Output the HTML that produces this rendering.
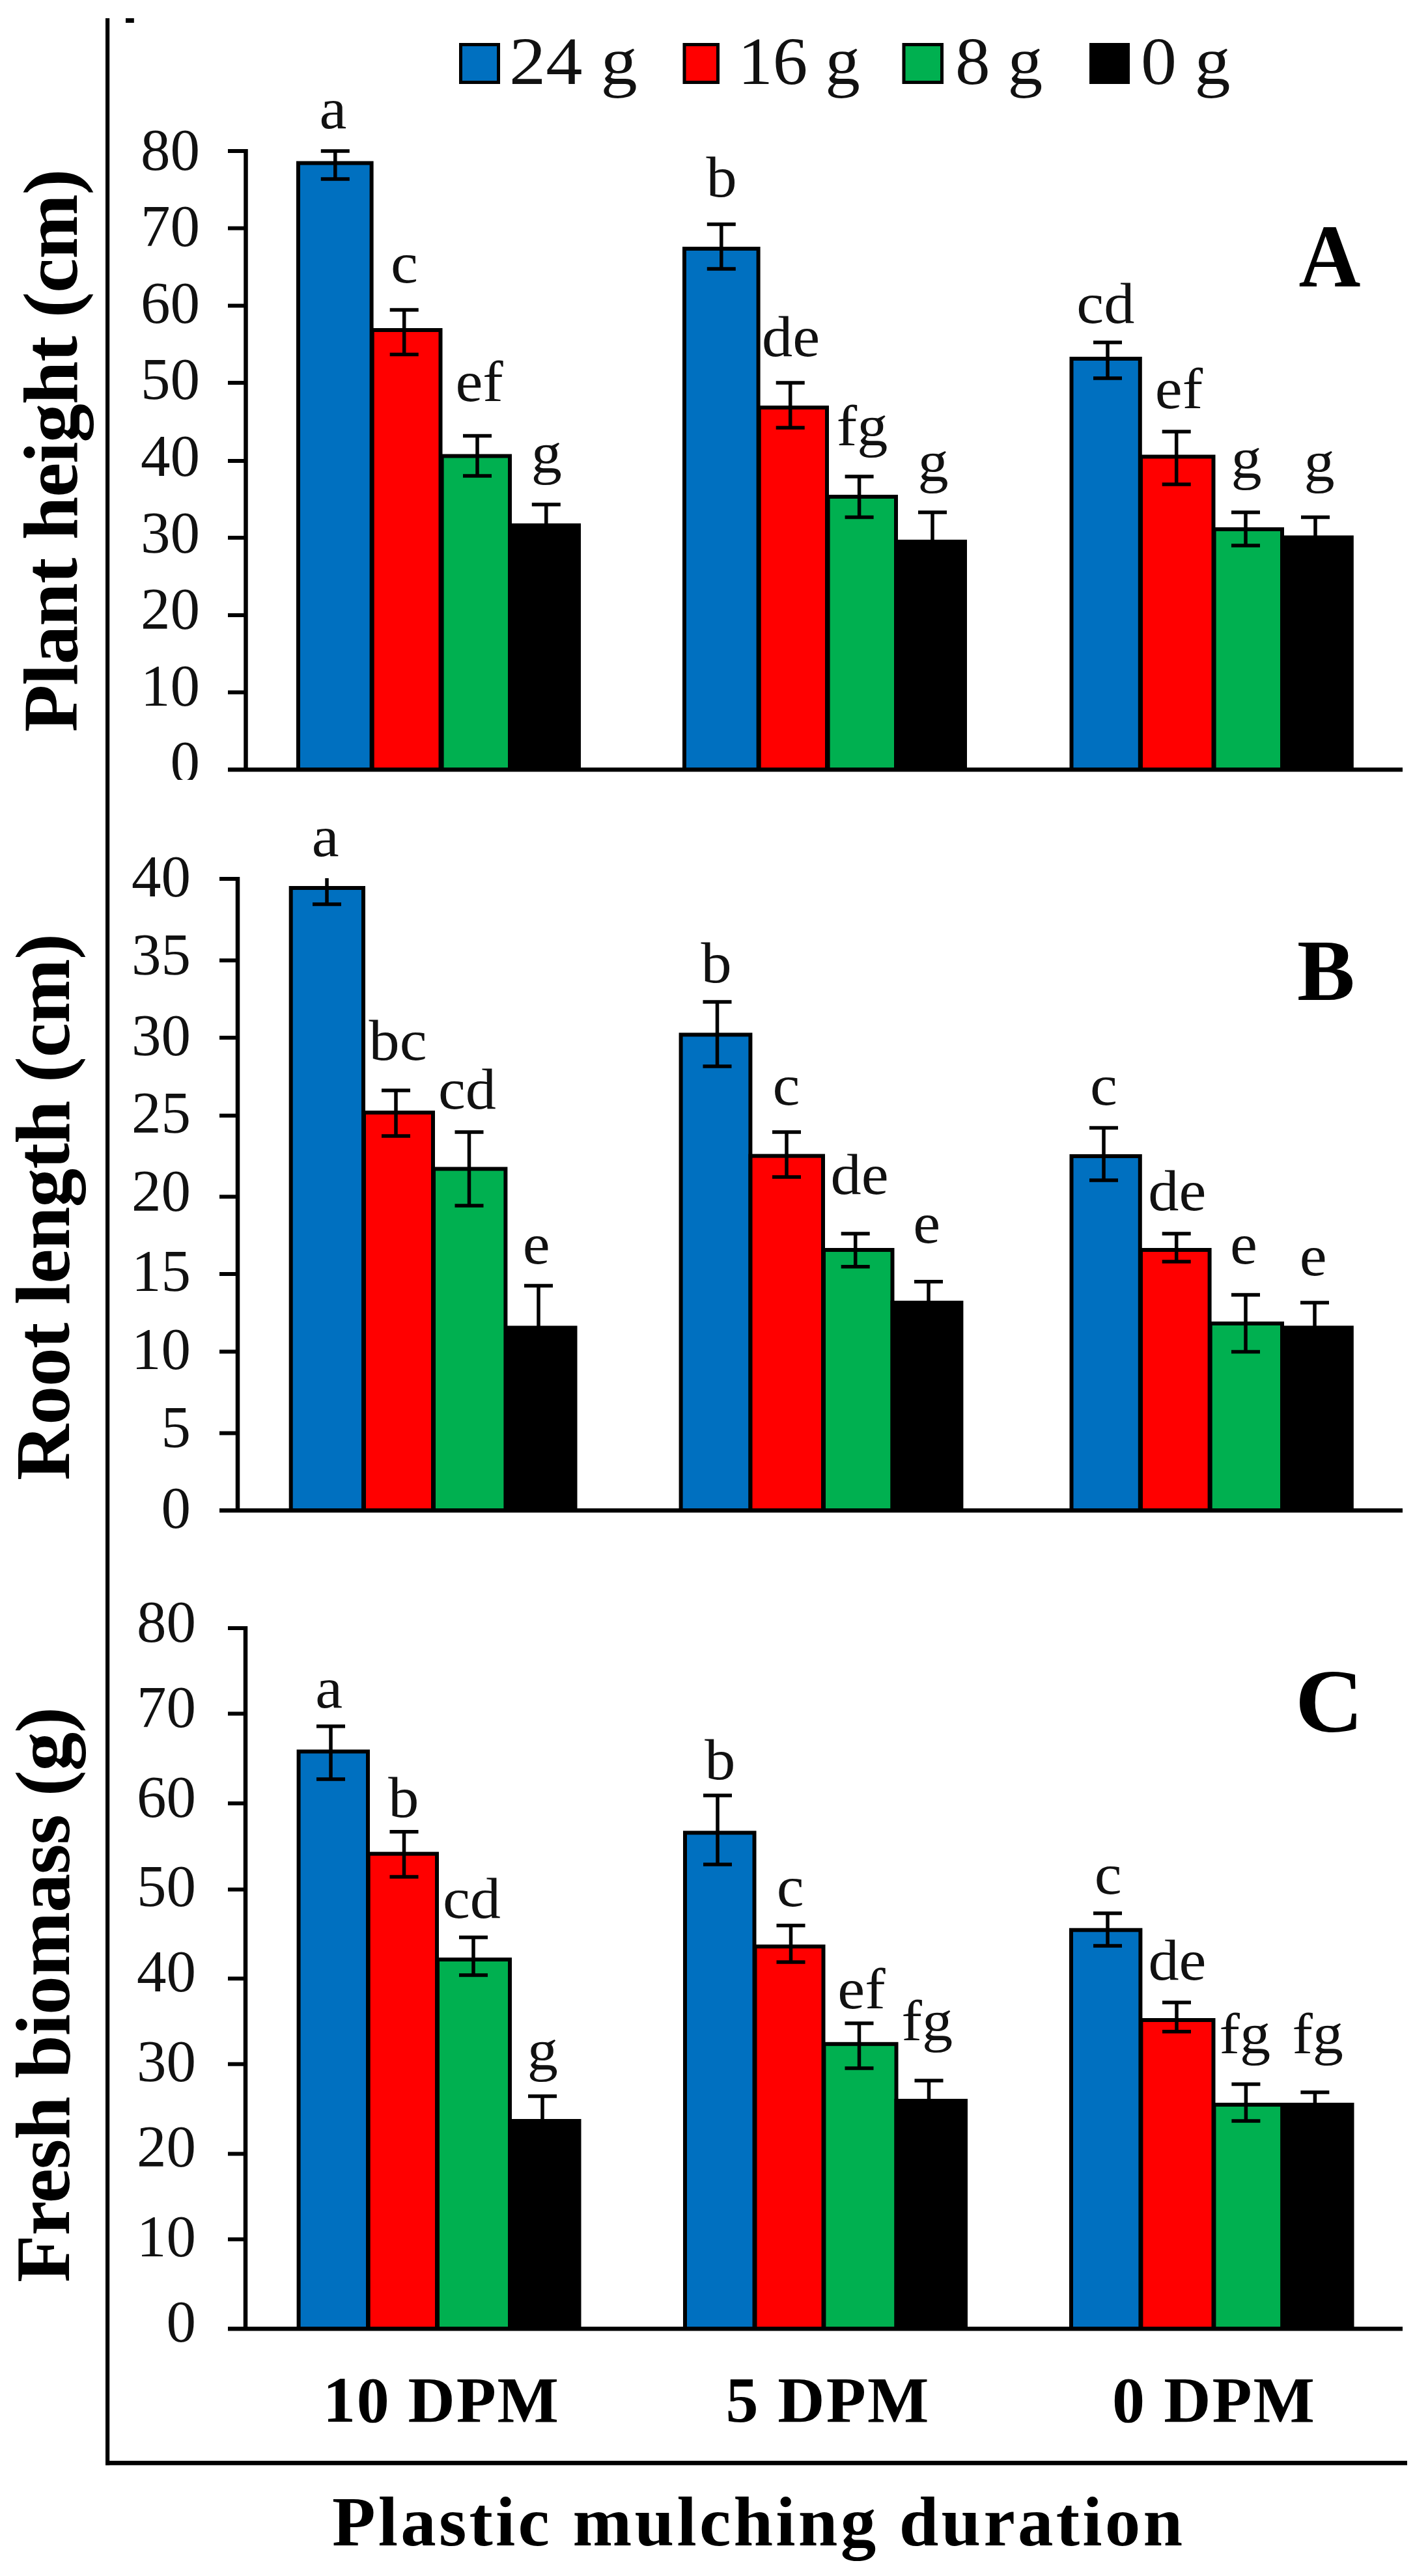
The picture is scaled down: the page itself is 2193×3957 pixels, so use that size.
<!DOCTYPE html><html><head><meta charset="utf-8"><title>Plastic mulching duration</title>
<style>html,body{margin:0;padding:0;background:#fff;overflow:hidden}svg{display:block}text{font-family:"Liberation Serif","DejaVu Serif",serif;fill:#111}.b{font-weight:bold;fill:#000}.lab{font-size:89px;text-anchor:middle}.tk{font-size:91px;text-anchor:end}.leg{font-size:103px}</style></head><body>
<svg width="2193" height="3957" viewBox="0 0 2193 3957">
<rect width="2193" height="3957" fill="#fff"/>
<defs><clipPath id="clipA0"><rect x="180" y="1100" width="160" height="98"/></clipPath></defs>
<g fill="#000">
<rect x="162" y="28" width="6.2" height="3759"/>
<rect x="162" y="3780" width="1999" height="6.8"/>
<rect x="193" y="28" width="12.8" height="7"/>
</g>
<rect x="707.5" y="68.5" width="58" height="58" fill="#0070C0" stroke="#000" stroke-width="5"/>
<text class="leg" transform="translate(781.9 129) scale(1.092 1)">24 g</text>
<rect x="1051.0" y="68.5" width="51.5" height="58" fill="#FF0000" stroke="#000" stroke-width="5"/>
<text class="leg" transform="translate(1133.3 129) scale(1.04 1)">16 g</text>
<rect x="1388.0" y="68.5" width="58.5" height="58" fill="#00B050" stroke="#000" stroke-width="5"/>
<text class="leg" transform="translate(1467.1 129) scale(1.042 1)">8 g</text>
<rect x="1675.5" y="68.5" width="57" height="58" fill="#000000" stroke="#000" stroke-width="5"/>
<text class="leg" transform="translate(1752 129) scale(1.067 1)">0 g</text>
<g fill="#000">
<rect x="374.25" y="229" width="6.5" height="956"/>
<rect x="350" y="1179" width="1804" height="6.5"/>
<rect x="350" y="229" width="27.5" height="6"/>
<rect x="350" y="347.6" width="27.5" height="6"/>
<rect x="350" y="466.6" width="27.5" height="6"/>
<rect x="350" y="585" width="27.5" height="6"/>
<rect x="350" y="705" width="27.5" height="6"/>
<rect x="350" y="823" width="27.5" height="6"/>
<rect x="350" y="942" width="27.5" height="6"/>
<rect x="350" y="1060.5" width="27.5" height="6"/>
</g>
<text class="tk" x="307" y="260.6">80</text>
<text class="tk" x="307" y="378.2">70</text>
<text class="tk" x="307" y="495.8">60</text>
<text class="tk" x="307" y="613.4">50</text>
<text class="tk" x="307" y="731.0">40</text>
<text class="tk" x="307" y="848.6">30</text>
<text class="tk" x="307" y="966.2">20</text>
<text class="tk" x="307" y="1083.8">10</text>
<text class="tk" x="307" y="1201.4" clip-path="url(#clipA0)">0</text>
<rect x="458.0" y="250.5" width="112.6" height="931.5" fill="#0070C0" stroke="#000" stroke-width="6"/>
<rect x="571.7" y="507.0" width="104.8" height="675.0" fill="#FF0000" stroke="#000" stroke-width="6"/>
<rect x="678.6" y="700.5" width="104.4" height="481.5" fill="#00B050" stroke="#000" stroke-width="6"/>
<rect x="784.0" y="807.0" width="105.0" height="375.0" fill="#000000" stroke="#000" stroke-width="6"/>
<rect x="1051.0" y="382.0" width="113.6" height="800.0" fill="#0070C0" stroke="#000" stroke-width="6"/>
<rect x="1165.7" y="626.0" width="104.3" height="556.0" fill="#FF0000" stroke="#000" stroke-width="6"/>
<rect x="1271.6" y="763.0" width="104.4" height="419.0" fill="#00B050" stroke="#000" stroke-width="6"/>
<rect x="1377.0" y="832.0" width="105.0" height="350.0" fill="#000000" stroke="#000" stroke-width="6"/>
<rect x="1645.5" y="551.0" width="105.3" height="631.0" fill="#0070C0" stroke="#000" stroke-width="6"/>
<rect x="1752.0" y="701.5" width="111.5" height="480.5" fill="#FF0000" stroke="#000" stroke-width="6"/>
<rect x="1864.6" y="813.0" width="104.4" height="369.0" fill="#00B050" stroke="#000" stroke-width="6"/>
<rect x="1970.0" y="825.5" width="105.8" height="356.5" fill="#000000" stroke="#000" stroke-width="6"/>
<g stroke="#000" stroke-width="5.5" fill="none">
<path d="M514.8 232V275M492.79999999999995 275H536.8M492.79999999999995 232H536.8"/>
<path d="M620.7 476V544.6M598.7 544.6H642.7M598.7 476H642.7"/>
<path d="M733 669.6V731M711 731H755M711 669.6H755"/>
<path d="M838.8 775V833M816.8 833H860.8M816.8 775H860.8"/>
<path d="M1107.8 344.6V413M1085.8 413H1129.8M1085.8 344.6H1129.8"/>
<path d="M1213.7 588V657M1191.7 657H1235.7M1191.7 588H1235.7"/>
<path d="M1319.6 732V794.6M1297.6 794.6H1341.6M1297.6 732H1341.6"/>
<path d="M1432 787V871M1410 871H1454M1410 787H1454"/>
<path d="M1701 526V581M1679 581H1723M1679 526H1723"/>
<path d="M1806.7 663V744M1784.7 744H1828.7M1784.7 663H1828.7"/>
<path d="M1913 787V838M1891 838H1935M1891 787H1935"/>
<path d="M2020 794.6V850M1998 850H2042M1998 794.6H2042"/>
</g>
<text class="lab" transform="translate(511.5 197) scale(1.06 1)">a</text>
<text class="lab" transform="translate(621.0 434) scale(1.06 1)">c</text>
<text class="lab" transform="translate(736.1 615.7) scale(1.06 1)">ef</text>
<text class="lab" transform="translate(839.4 726) scale(1.06 1)">g</text>
<text class="lab" transform="translate(1108.0 302) scale(1.06 1)">b</text>
<text class="lab" transform="translate(1214.5 547) scale(1.06 1)">de</text>
<text class="lab" transform="translate(1324.0 684) scale(1.06 1)">fg</text>
<text class="lab" transform="translate(1433.0 738.5) scale(1.06 1)">g</text>
<text class="lab" transform="translate(1697.8 495.6) scale(1.06 1)">cd</text>
<text class="lab" transform="translate(1810.5 626.5) scale(1.06 1)">ef</text>
<text class="lab" transform="translate(1914.0 733.6) scale(1.06 1)">g</text>
<text class="lab" transform="translate(2026.0 738.5) scale(1.06 1)">g</text>
<g fill="#000">
<rect x="361.75" y="1347" width="6.5" height="976"/>
<rect x="337" y="2317" width="1817" height="6.5"/>
<rect x="337" y="1347" width="28" height="6"/>
<rect x="337" y="1472.3" width="28" height="6"/>
<rect x="337" y="1591" width="28" height="6"/>
<rect x="337" y="1710.7" width="28" height="6"/>
<rect x="337" y="1835.3" width="28" height="6"/>
<rect x="337" y="1954" width="28" height="6"/>
<rect x="337" y="2073.3" width="28" height="6"/>
<rect x="337" y="2198.5" width="28" height="6"/>
</g>
<text class="tk" x="293" y="1377.0">40</text>
<text class="tk" x="293" y="1496.6">35</text>
<text class="tk" x="293" y="1621.0">30</text>
<text class="tk" x="293" y="1740.0">25</text>
<text class="tk" x="293" y="1859.5">20</text>
<text class="tk" x="293" y="1983.4">15</text>
<text class="tk" x="293" y="2103.0">10</text>
<text class="tk" x="293" y="2222.6">5</text>
<text class="tk" x="293" y="2346.5">0</text>
<rect x="446.7" y="1364.0" width="111.3" height="956.0" fill="#0070C0" stroke="#000" stroke-width="6"/>
<rect x="559.0" y="1709.0" width="106.0" height="611.0" fill="#FF0000" stroke="#000" stroke-width="6"/>
<rect x="666.0" y="1795.5" width="110.4" height="524.5" fill="#00B050" stroke="#000" stroke-width="6"/>
<rect x="778.0" y="2039.5" width="105.5" height="280.5" fill="#000000" stroke="#000" stroke-width="6"/>
<rect x="1045.6" y="1589.4" width="106.8" height="730.6" fill="#0070C0" stroke="#000" stroke-width="6"/>
<rect x="1152.5" y="1775.6" width="111.5" height="544.4" fill="#FF0000" stroke="#000" stroke-width="6"/>
<rect x="1265.0" y="1920.0" width="105.5" height="400.0" fill="#00B050" stroke="#000" stroke-width="6"/>
<rect x="1370.6" y="2001.0" width="105.8" height="319.0" fill="#000000" stroke="#000" stroke-width="6"/>
<rect x="1645.5" y="1776.0" width="105.3" height="544.0" fill="#0070C0" stroke="#000" stroke-width="6"/>
<rect x="1752.0" y="1920.0" width="105.6" height="400.0" fill="#FF0000" stroke="#000" stroke-width="6"/>
<rect x="1858.7" y="2033.0" width="110.3" height="287.0" fill="#00B050" stroke="#000" stroke-width="6"/>
<rect x="1970.0" y="2039.4" width="105.8" height="280.6" fill="#000000" stroke="#000" stroke-width="6"/>
<g stroke="#000" stroke-width="5.5" fill="none">
<path d="M502 1349V1389M480 1389H524"/>
<path d="M608 1675V1745M586 1745H630M586 1675H630"/>
<path d="M720.5 1739V1852M698.5 1852H742.5M698.5 1739H742.5"/>
<path d="M827 1975V2098M805 2098H849M805 1975H849"/>
<path d="M1101.5 1539V1638M1079.5 1638H1123.5M1079.5 1539H1123.5"/>
<path d="M1208 1739V1808M1186 1808H1230M1186 1739H1230"/>
<path d="M1313.7 1895V1945.7M1291.7 1945.7H1335.7M1291.7 1895H1335.7"/>
<path d="M1426 1968.7V2030M1404 2030H1448M1404 1968.7H1448"/>
<path d="M1695 1732.5V1813M1673 1813H1717M1673 1732.5H1717"/>
<path d="M1806.7 1895V1938M1784.7 1938H1828.7M1784.7 1895H1828.7"/>
<path d="M1913 1989V2076.6M1891 2076.6H1935M1891 1989H1935"/>
<path d="M2019 2001V2070M1997 2070H2041M1997 2001H2041"/>
</g>
<text class="lab" transform="translate(499.8 1315) scale(1.06 1)">a</text>
<text class="lab" transform="translate(611.0 1627.6) scale(1.06 1)">bc</text>
<text class="lab" transform="translate(717.5 1703) scale(1.06 1)">cd</text>
<text class="lab" transform="translate(823.8 1941) scale(1.06 1)">e</text>
<text class="lab" transform="translate(1100.2 1509) scale(1.06 1)">b</text>
<text class="lab" transform="translate(1207.5 1696.7) scale(1.06 1)">c</text>
<text class="lab" transform="translate(1320.0 1834) scale(1.06 1)">de</text>
<text class="lab" transform="translate(1423.3 1909) scale(1.06 1)">e</text>
<text class="lab" transform="translate(1695.0 1696.7) scale(1.06 1)">c</text>
<text class="lab" transform="translate(1807.8 1859) scale(1.06 1)">de</text>
<text class="lab" transform="translate(1910.0 1940.8) scale(1.06 1)">e</text>
<text class="lab" transform="translate(2016.8 1959.4) scale(1.06 1)">e</text>
<g fill="#000">
<rect x="373.75" y="2498" width="6.5" height="1082"/>
<rect x="350" y="3574" width="1804" height="6.5"/>
<rect x="350" y="2498" width="27" height="6"/>
<rect x="350" y="2629.4" width="27" height="6"/>
<rect x="350" y="2767.2" width="27" height="6"/>
<rect x="350" y="2899.5" width="27" height="6"/>
<rect x="350" y="3036.3" width="27" height="6"/>
<rect x="350" y="3167.7" width="27" height="6"/>
<rect x="350" y="3305.5" width="27" height="6"/>
<rect x="350" y="3436.8" width="27" height="6"/>
</g>
<text class="tk" x="301" y="2522.0">80</text>
<text class="tk" x="301" y="2652.6">70</text>
<text class="tk" x="301" y="2790.8">60</text>
<text class="tk" x="301" y="2928.4">50</text>
<text class="tk" x="301" y="3058.6">40</text>
<text class="tk" x="301" y="3196.7">30</text>
<text class="tk" x="301" y="3328.4">20</text>
<text class="tk" x="301" y="3466.0">10</text>
<text class="tk" x="301" y="3596.7">0</text>
<rect x="458.6" y="2690.5" width="106.4" height="886.5" fill="#0070C0" stroke="#000" stroke-width="6"/>
<rect x="565.7" y="2847.6" width="105.3" height="729.4" fill="#FF0000" stroke="#000" stroke-width="6"/>
<rect x="672.0" y="3010.0" width="111.0" height="567.0" fill="#00B050" stroke="#000" stroke-width="6"/>
<rect x="784.0" y="3258.0" width="105.5" height="319.0" fill="#000000" stroke="#000" stroke-width="6"/>
<rect x="1052.0" y="2815.3" width="106.5" height="761.7" fill="#0070C0" stroke="#000" stroke-width="6"/>
<rect x="1159.5" y="2990.0" width="105.0" height="587.0" fill="#FF0000" stroke="#000" stroke-width="6"/>
<rect x="1265.4" y="3139.8" width="111.1" height="437.2" fill="#00B050" stroke="#000" stroke-width="6"/>
<rect x="1376.5" y="3227.0" width="106.5" height="350.0" fill="#000000" stroke="#000" stroke-width="6"/>
<rect x="1645.0" y="2964.7" width="106.4" height="612.3" fill="#0070C0" stroke="#000" stroke-width="6"/>
<rect x="1752.4" y="3103.0" width="111.1" height="474.0" fill="#FF0000" stroke="#000" stroke-width="6"/>
<rect x="1864.4" y="3233.0" width="105.0" height="344.0" fill="#00B050" stroke="#000" stroke-width="6"/>
<rect x="1969.4" y="3233.0" width="107.1" height="344.0" fill="#000000" stroke="#000" stroke-width="6"/>
<g stroke="#000" stroke-width="5.5" fill="none">
<path d="M508 2651.8V2733M486 2733H530M486 2651.8H530"/>
<path d="M620.5 2813.7V2883M598.5 2883H642.5M598.5 2813.7H642.5"/>
<path d="M727 2976V3034M705 3034H749M705 2976H749"/>
<path d="M833 3220V3290M811 3290H855M811 3220H855"/>
<path d="M1102 2758V2864M1080 2864H1124M1080 2758H1124"/>
<path d="M1214.5 2957.7V3014M1192.5 3014H1236.5M1192.5 2957.7H1236.5"/>
<path d="M1319.5 3108V3177M1297.5 3177H1341.5M1297.5 3108H1341.5"/>
<path d="M1426.5 3196V3252M1404.5 3252H1448.5M1404.5 3196H1448.5"/>
<path d="M1701 2939V2989M1679 2989H1723M1679 2939H1723"/>
<path d="M1807 3076V3120.7M1785 3120.7H1829M1785 3076H1829"/>
<path d="M1913.4 3201.5V3258M1891.4 3258H1935.4M1891.4 3201.5H1935.4"/>
<path d="M2019.4 3214V3246M1997.4 3246H2041.4M1997.4 3214H2041.4"/>
</g>
<text class="lab" transform="translate(505.2 2623) scale(1.06 1)">a</text>
<text class="lab" transform="translate(619.8 2791) scale(1.06 1)">b</text>
<text class="lab" transform="translate(724.5 2946.4) scale(1.06 1)">cd</text>
<text class="lab" transform="translate(833.4 3179) scale(1.06 1)">g</text>
<text class="lab" transform="translate(1105.8 2733) scale(1.06 1)">b</text>
<text class="lab" transform="translate(1213.8 2928.4) scale(1.06 1)">c</text>
<text class="lab" transform="translate(1323.0 3085) scale(1.06 1)">ef</text>
<text class="lab" transform="translate(1423.8 3134) scale(1.06 1)">fg</text>
<text class="lab" transform="translate(1701.7 2908.7) scale(1.06 1)">c</text>
<text class="lab" transform="translate(1807.9 3041) scale(1.06 1)">de</text>
<text class="lab" transform="translate(1911.8 3153.5) scale(1.06 1)">fg</text>
<text class="lab" transform="translate(2023.7 3153.5) scale(1.06 1)">fg</text>
<text class="b" transform="translate(1994.5 440) scale(0.96 1)" font-size="137">A</text>
<text class="b" x="1992" y="1536" font-size="133">B</text>
<text class="b" transform="translate(1989 2659.5) scale(1.06 1)" font-size="137">C</text>
<text class="b" font-size="119.5" transform="translate(118.3 1124.5) rotate(-90)" textLength="865" lengthAdjust="spacing">Plant height (cm)</text>
<text class="b" font-size="119.5" transform="translate(106 2274) rotate(-90)" textLength="840" lengthAdjust="spacing">Root length (cm)</text>
<text class="b" font-size="119.5" transform="translate(105.5 3506) rotate(-90)" textLength="884" lengthAdjust="spacing">Fresh biomass (g)</text>
<text class="b" font-size="100" x="496" y="3720" textLength="362" lengthAdjust="spacing">10 DPM</text>
<text class="b" font-size="100" x="1114.5" y="3720" textLength="312" lengthAdjust="spacing">5 DPM</text>
<text class="b" font-size="100" x="1708" y="3720" textLength="311" lengthAdjust="spacing">0 DPM</text>
<text class="b" font-size="109" x="510" y="3909.5" textLength="1306" lengthAdjust="spacing">Plastic mulching duration</text>
</svg></body></html>
